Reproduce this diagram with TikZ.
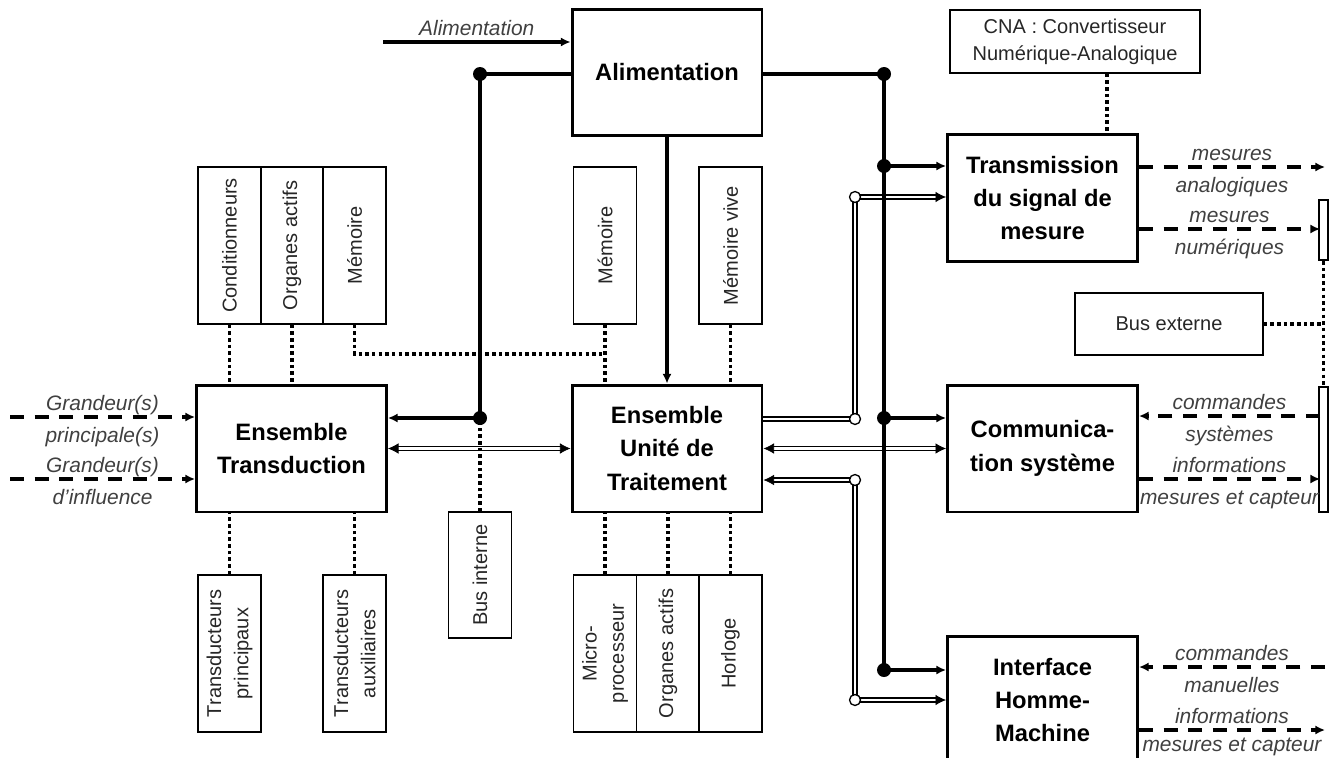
\documentclass[tikz,border=0pt]{standalone}
\usepackage{fontspec}
\setmainfont{Liberation Sans}
\usetikzlibrary{arrows.meta}

\begin{document}
\begin{tikzpicture}[x=0.02cm, y=-0.02cm, >={Latex[length=5.5pt,width=5.2pt]},
    bloc/.style={draw, line width=1.7pt, minimum width=3.8cm, minimum height=2.54cm,
        align=center, inner sep=0pt, font=\fontsize{13.5}{19}\selectfont\bfseries},
    vbox/.style={draw, line width=0.8pt, rotate=90, minimum width=3.14cm, minimum height=1.26cm,
        align=center, inner sep=0pt, text=black!85, font=\fontsize{11.4}{15.5}\selectfont},
    hbox/.style={draw, line width=0.8pt, minimum height=1.26cm, align=center, inner sep=0pt,
        text=black!85, font=\fontsize{11.4}{15.5}\selectfont},
    bar/.style={draw, line width=1.3pt, minimum width=0.18cm, inner sep=0pt},
    bus/.style={line width=2.3pt},
    fil/.style={line width=1.8pt},
    dbl/.style={double, double distance=1.5pt, line width=0.75pt, shorten <=5pt, shorten >=5pt},
    dblend/.style={double, double distance=1.5pt, line width=0.75pt},
    tips/.style={draw=white, line width=0.4pt, >={Latex[length=6pt,width=6pt,color=black]}},
    dsh/.style={line width=2pt, dash pattern=on 8pt off 6pt},
    dots/.style={line width=2pt, dash pattern=on 2pt off 1.8pt},
    lbl/.style={anchor=base, inner sep=0pt, text=black!75, font=\fontsize{11.9}{13}\selectfont\itshape},
    up/.style={lbl, yshift=3.5pt},
    dn/.style={lbl, yshift=-14.5pt},
    dnb/.style={lbl, yshift=-12.3pt},
    jdot/.style={circle, fill, inner sep=0pt, minimum size=0.28cm},
    odot/.style={circle, draw, fill=white, line width=0.75pt, inner sep=0pt, minimum size=0.22cm}]
    \useasboundingbox (0,0) rectangle (1337,757);

    \node[bloc] (alim) at (667,72.5) {Alimentation};
    \node[bloc] (trans) at (291.5,448.5) {Ensemble\\Transduction};
    \node[bloc] (ut) at (667,448.5) {Ensemble\\Unité de\\Traitement};
    \node[bloc] (tx) at (1042.5,198) {Transmission\\du signal de\\mesure};
    \node[bloc] (com) at (1042.5,448.5) {Communica-\\tion système};
    \node[bloc] (ihm) at (1042.5,700) {Interface\\Homme-\\Machine};

    \node[vbox] (cond) at (229.5,245.5) {Conditionneurs};
    \node[vbox] (orgt) at (292,245.5) {Organes actifs};
    \node[vbox] (tmem) at (354.5,245.5) {Mémoire};
    \node[vbox] (umem) at (605,245.5) {Mémoire};
    \node[vbox] (mviv) at (730.5,245.5) {Mémoire vive};
    \node[vbox] (tp) at (229.5,653.5) {Transducteurs\\principaux};
    \node[vbox] (ta) at (354.5,653.5) {Transducteurs\\auxiliaires};
    \node[vbox, minimum width=2.52cm] (busint) at (480,575) {Bus interne};
    \node[vbox] (micro) at (605,653.5) {Micro-\\processeur};
    \node[vbox] (orgu) at (668,653.5) {Organes actifs};
    \node[vbox] (horl) at (730.5,653.5) {Horloge};
    \node[hbox, minimum width=5cm] (cna) at (1075,41.5) {CNA : Convertisseur\\Numérique-Analogique};
    \node[hbox, minimum width=3.76cm, minimum height=1.24cm] (busext) at (1169,324) {Bus externe};
    \node[bar, minimum height=1.2cm] (barA) at (1323.5,230) {};
    \node[bar, minimum height=2.5cm] (barB) at (1323.5,449.5) {};

    \coordinate (ain) at (383,42);
    \coordinate (jA) at (480,74);
    \coordinate (jT) at (480,418);
    \coordinate (jB) at (884,74);
    \coordinate (jM) at (884,166);
    \coordinate (jC) at (884,418);
    \coordinate (jH) at (884,670);
    \coordinate (oA) at (855,419);
    \coordinate (oB) at (855,197);
    \coordinate (oC) at (855,480);
    \coordinate (oD) at (855,700);
    \coordinate (memj) at (605,354);
    \coordinate (gp) at (10,417);
    \coordinate (gi) at (10,479);
    \coordinate (ma) at (1325,167);
    \coordinate (mn) at (1320,229);
    \coordinate (cs) at (1320,416);
    \coordinate (ci) at (1320,479);
    \coordinate (hc) at (1325,667);
    \coordinate (hi) at (1325,730);

    \draw[dblend] (ut.east |- oA) -- (oA) -- (oB);
    \draw[dbl, shorten <=0pt] (oB) -- (tx.west |- oB);
    \draw[tips,->] (oB) -- (tx.west |- oB);
    \draw[dbl] (trans.east) -- (ut.west);
    \draw[tips,<->] (trans.east) -- (ut.west);
    \draw[dbl] (ut.east) -- (com.west);
    \draw[tips,<->] (ut.east) -- (com.west);
    \draw[dbl, shorten <=0pt] (oC) -- (ut.east |- oC);
    \draw[tips,->] (oC) -- (ut.east |- oC);
    \draw[dblend] (oC) -- (oD);
    \draw[dbl, shorten <=0pt] (oD) -- (ihm.west |- oD);
    \draw[tips,->] (oD) -- (ihm.west |- oD);

    \draw[dots] (cond.west) -- (cond.west |- trans.north);
    \draw[dots] (orgt.west) -- (orgt.west |- trans.north);
    \draw[dots] (tmem.west) |- (memj);
    \draw[dots] (umem.west) -- (umem.west |- ut.north);
    \draw[dots] (mviv.west) -- (mviv.west |- ut.north);
    \draw[dots] (tp.east) -- (tp.east |- trans.south);
    \draw[dots] (ta.east) -- (ta.east |- trans.south);
    \draw[dots] (busint.east) -- (jT);
    \draw[dots] (micro.east) -- (micro.east |- ut.south);
    \draw[dots] (orgu.east) -- (orgu.east |- ut.south);
    \draw[dots] (horl.east) -- (horl.east |- ut.south);
    \draw[dots] ([xshift=0.64cm]cna.south) -- ([xshift=0.64cm]cna.south |- tx.north);
    \draw[dots] (busext.east) -- (busext.east -| barA.south);
    \draw[dots] (barA.south) -- (barB.north);

    \draw[fil,->] (ain) -- node[up] {Alimentation} (alim.west |- ain);
    \draw[bus] (alim.west |- jA) -- (jA) -- (jT);
    \draw[bus,->] (jT) -- (trans.east |- jT);
    \draw[bus,->] (alim.south) -- (ut.north);
    \draw[bus] (alim.east |- jB) -- (jB) -- (jH);
    \draw[bus,->] (jM) -- (tx.west |- jM);
    \draw[bus,->] (jC) -- (com.west |- jC);
    \draw[bus,->] (jH) -- (ihm.west |- jH);

    \draw[dsh,->] (gp) -- node[up] {Grandeur(s)} node[dn] {principale(s)} (trans.west |- gp);
    \draw[dsh,->] (gi) -- node[up] {Grandeur(s)} node[dn] {d'influence} (trans.west |- gi);
    \draw[dsh,->] (tx.east |- ma) -- node[up] {mesures} node[dn] {analogiques} (ma);
    \draw[dsh,->] (tx.east |- mn) -- node[up] {mesures} node[dn] {numériques} (mn);
    \draw[dsh,->] (cs) -- node[up] {commandes} node[dn] {systèmes} (com.east |- cs);
    \draw[dsh,->] (com.east |- ci) -- node[up] {informations} node[dn] {mesures et capteur} (ci);
    \draw[dsh,->] (hc) -- node[up] {commandes} node[dn] {manuelles} (ihm.east |- hc);
    \draw[dsh,->] (ihm.east |- hi) -- node[up] {informations} node[dnb] {mesures et capteur} (hi);

    \foreach \j in {jA,jT,jB,jM,jC,jH} \node[jdot] at (\j) {};
    \foreach \o in {oA,oB,oC,oD} \node[odot] at (\o) {};
\end{tikzpicture}
\end{document}
